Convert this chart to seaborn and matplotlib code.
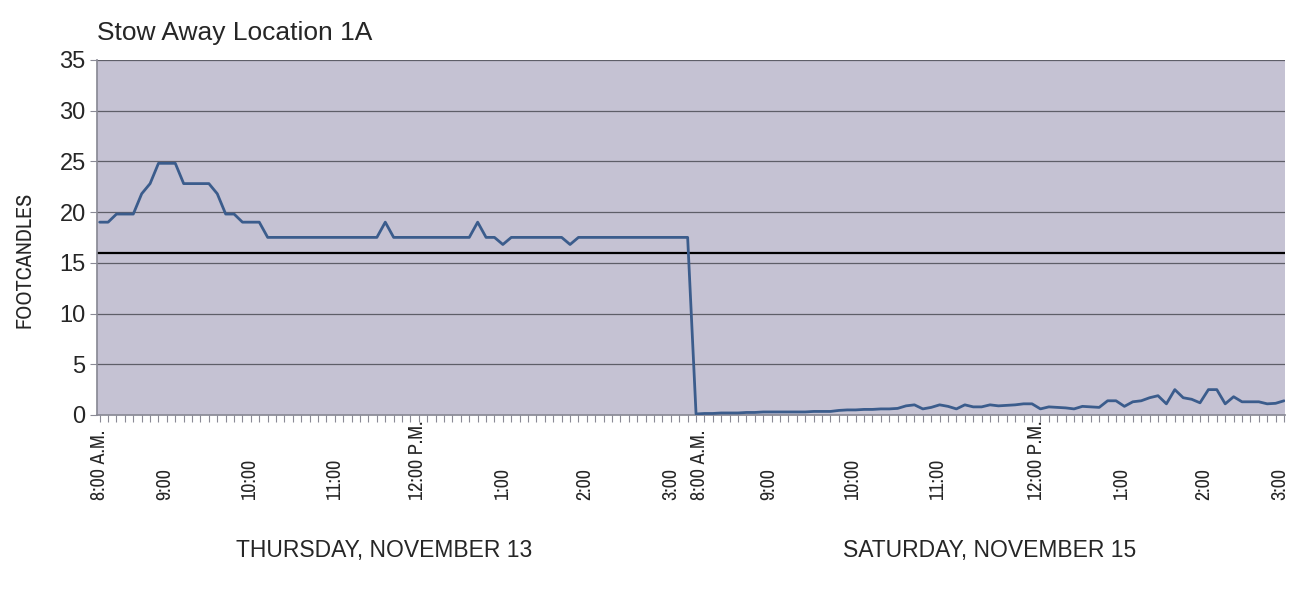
import matplotlib
matplotlib.use("Agg")
import matplotlib.pyplot as plt
import matplotlib.transforms as mtransforms
import seaborn as sns
import pandas as pd
import numpy as np

# Readings every 6 minutes, 8:00 A.M. - 3:00 P.M.
thursday = [19, 19, 19.8, 19.8, 19.8, 21.8, 22.8, 24.8, 24.8, 24.8,
            22.8, 22.8, 22.8, 22.8, 21.8, 19.8, 19.8, 19, 19, 19,
            17.5, 17.5, 17.5, 17.5, 17.5, 17.5, 17.5, 17.5, 17.5, 17.5,
            17.5, 17.5, 17.5, 17.5, 19, 17.5, 17.5, 17.5, 17.5, 17.5,
            17.5, 17.5, 17.5, 17.5, 17.5, 19, 17.5, 17.5, 16.8, 17.5,
            17.5, 17.5, 17.5, 17.5, 17.5, 17.5, 16.8, 17.5, 17.5, 17.5,
            17.5, 17.5, 17.5, 17.5, 17.5, 17.5, 17.5, 17.5, 17.5, 17.5,
            17.5]
saturday = [0.1, 0.15, 0.15, 0.2, 0.2, 0.2, 0.25, 0.25, 0.3, 0.3,
            0.3, 0.3, 0.3, 0.3, 0.35, 0.35, 0.35, 0.45, 0.5, 0.5,
            0.55, 0.55, 0.6, 0.6, 0.65, 0.9, 1.0, 0.6, 0.75, 1.0,
            0.85, 0.6, 1.0, 0.8, 0.8, 1.0, 0.9, 0.95, 1.0, 1.1,
            1.1, 0.6, 0.8, 0.75, 0.7, 0.6, 0.85, 0.8, 0.75, 1.4,
            1.4, 0.85, 1.3, 1.4, 1.7, 1.9, 1.1, 2.5, 1.7, 1.55,
            1.2, 2.5, 2.5, 1.1, 1.8, 1.3, 1.3, 1.3, 1.1, 1.15,
            1.4]
threshold = 16

tick_pos = [0, 7.8, 17.8, 27.9, 37.8, 47.9, 57.8, 68,
            71.4, 79.6, 89.6, 99.8, 111.5, 121.6, 131.5, 140.5]
tick_labels = ["8:00 A.M.", "9:00", "10:00", "11:00", "12:00 P.M.", "1:00", "2:00", "3:00",
               "8:00 A.M.", "9:00", "10:00", "11:00", "12:00 P.M.", "1:00", "2:00", "3:00"]
day_labels = ["THURSDAY, NOVEMBER 13", "SATURDAY, NOVEMBER 15"]

values = thursday + saturday
df = pd.DataFrame({"sample": np.arange(len(values)), "fc": values})

sns.set_theme(style="white")
plt.rcParams['font.family'] = ['Liberation Sans', 'DejaVu Sans']
narrow = ['Liberation Sans Narrow', 'Archivo Narrow', 'PT Sans Narrow',
          'Roboto Condensed', 'Liberation Sans']

fig = plt.figure(figsize=(12.9, 5.92), dpi=100)
ax = fig.add_axes([0.075, 0.299, 0.921, 0.600])
ax.set_facecolor("#c5c2d3")

for y in range(5, 36, 5):
    ax.axhline(y, color="#5e5e68", lw=0.9, zorder=1)
ax.axhline(threshold, color="black", lw=1.6, zorder=2)

sns.lineplot(data=df, x="sample", y="fc", ax=ax, color="#3b5c8c", lw=2.0, zorder=3)

ax.set_xlim(-0.35, 141.1)
ax.set_ylim(0, 35)
ax.set_yticks(range(0, 36, 5))
ax.set_xticks(np.arange(len(values)))
ax.set_xticklabels([])
ax.tick_params(axis="x", which="both", direction="out", length=5, width=0.8,
               color="#8a8a95", bottom=True)
ax.tick_params(axis="y", direction="out", length=5, width=0.8, color="#8a8a95",
               left=True, labelsize=17, pad=3)

# time labels, bottom-aligned like the original
trans = mtransforms.blended_transform_factory(ax.transData, ax.transAxes)
for pos, lab in zip(tick_pos, tick_labels):
    ax.text(pos, -0.24, lab, transform=trans, rotation=90, ha="center", va="bottom",
            fontsize=14.5, family=narrow, clip_on=False)

for side in ["top", "right"]:
    ax.spines[side].set_visible(False)
ax.spines["left"].set_color("#8a8a95")
ax.spines["bottom"].set_color("#8a8a95")

ax.set_xlabel("")
ax.set_ylabel("FOOTCANDLES", fontsize=16, family=narrow)
ax.yaxis.set_label_coords(-0.052, 0.437)

fig.text(0.075, 0.945, "Stow Away Location 1A", fontsize=19, ha="left", va="center")
fig.text(0.298, 0.07, day_labels[0], fontsize=16.5, ha="center", va="center")
fig.text(0.767, 0.07, day_labels[1], fontsize=16.5, ha="center", va="center")

fig.savefig("out.png", dpi=100)
